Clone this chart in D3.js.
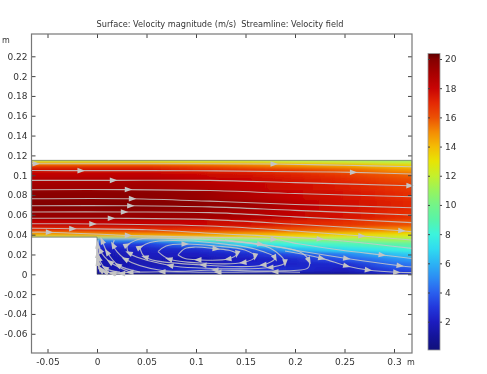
<!DOCTYPE html>
<html>
<head>
<meta charset="utf-8">
<script src="https://cdn.jsdelivr.net/npm/d3@7"></script>
<style>
    html, body { margin: 0; background: #fff; }
    text { font-family: "DejaVu Sans", sans-serif; fill: #333; }
    svg { filter: blur(0.3px); }
</style>
</head>
<body>
<div id="chart"></div>
<script>
// Tick labels
const xTicks = [-0.05, 0, 0.05, 0.1, 0.15, 0.2, 0.25, 0.3];
const yTicks = [-0.06, -0.04, -0.02, 0, 0.02, 0.04, 0.06, 0.08, 0.1, 0.12, 0.14, 0.16, 0.18, 0.2, 0.22];
const barTicks = [2, 4, 6, 8, 10, 12, 14, 16, 18, 20];

// Colour table of the legend
const colorValues = [0.06, 1, 2, 3, 4, 5, 6, 7, 8, 9, 10, 11, 12, 13, 14, 15, 16, 17, 18, 19, 20, 20.4];
const colorHexes = ['#10107a', '#14149a', '#1c1cc0', '#2238dc', '#2a60ee', '#2c8cf4', '#2cb4f4', '#30dcf0', '#3cf4dc', '#58f4a8', '#74f488', '#98f45c', '#c4f02c', '#e8e404', '#f4bc04', '#f48c04', '#ec5004', '#e42804', '#c80404', '#a80000', '#840000', '#5c0000'];

// Velocity magnitude: rows are heights, columns are stations
const fieldX = [-0.066, 0, 0.05, 0.1, 0.15, 0.2, 0.25, 0.3, 0.318];
const fieldY = [0.115, 0.113, 0.11, 0.105, 0.1, 0.095, 0.09, 0.08, 0.07, 0.06, 0.05, 0.045, 0.04, 0.0375, 0.035, 0.03, 0.025, 0.02, 0.015, 0.01, 0.005, 0];
const fieldValues = [
    [11.5, 11.5, 11.5, 11.5, 11.5, 11, 11, 10.5, 10.5],
    [14, 14, 14, 13.5, 13.5, 13, 12.5, 12, 12],
    [16.5, 16.5, 16.5, 16, 15.5, 15, 14.5, 13.7, 13.5],
    [17.8, 17.8, 17.8, 17.2, 17, 16.5, 15.8, 15, 14.8],
    [18.3, 18.3, 18.3, 18, 17.7, 17.2, 16.6, 15.9, 15.7],
    [18.8, 18.8, 18.8, 18.4, 18, 17.5, 17, 16.3, 16.1],
    [19.2, 19.2, 19.2, 18.8, 18.3, 17.8, 17.3, 16.7, 16.5],
    [19.8, 19.8, 19.8, 19.5, 18.8, 18.1, 17.6, 17, 16.8],
    [20, 20, 20, 19.8, 19.3, 18.5, 17.8, 17.2, 17],
    [19.5, 19.5, 19.5, 19.4, 18.9, 18.2, 17.6, 17, 16.8],
    [18.2, 18.2, 18.2, 18, 17.7, 17.2, 16.8, 16.2, 16],
    [17, 17, 17, 16.8, 16.5, 16, 15.5, 15, 14.8],
    [14.5, 15, 15, 15, 14.5, 14, 13.5, 13.3, 13],
    [12, 12, 13, 13.5, 13, 13, 12.5, 12, 12],
    [5, 5, 5, 8, 10, 10, 10.5, 11, 11],
    [3, 3, 3, 4.5, 7, 8, 8.5, 9, 9.2],
    [2, 2, 2.3, 2.5, 3.5, 6, 7, 7.7, 8],
    [1.5, 1.5, 2, 2, 2.5, 3.5, 4.7, 6.3, 6.6],
    [1.5, 1.5, 1.7, 1.5, 2, 2.5, 3.7, 5, 5.4],
    [1.5, 1.5, 1.7, 1.5, 2.3, 2.3, 2.5, 4.2, 4.5],
    [1.5, 1.5, 2, 2.5, 3, 2.5, 2, 3.4, 3.6],
    [0.8, 0.8, 0.8, 0.8, 0.8, 0.8, 1, 2, 2.4]
];

// Outline of the flow domain
const domainOutline = [[-0.066, 0.115], [0.318, 0.115], [0.318, 0], [0, 0], [0, 0.0375], [-0.066, 0.0375]];

// Streamlines as [x, y], a third item of 1 marks an arrow at that point
const channelLines = [
    [[-0.066, 0.1118], [-0.0616, 0.1116, 1], [0.05, 0.1116], [0.1788, 0.1113, 1], [0.25, 0.11], [0.318, 0.1085]],
    [[-0.066, 0.1048], [-0.0162, 0.1046, 1], [0.1, 0.1045], [0.2, 0.1035], [0.259, 0.1029, 1], [0.318, 0.1012]],
    [[-0.066, 0.0948], [0.0165, 0.0948, 1], [0.114, 0.0948], [0.2, 0.0925], [0.316, 0.0894, 1], [0.318, 0.0893]],
    [[-0.066, 0.0854], [0.0316, 0.0855, 1], [0.114, 0.0845], [0.2, 0.0815], [0.318, 0.0783]],
    [[-0.066, 0.0763], [0.0357, 0.0763, 1], [0.114, 0.0738], [0.2, 0.0705], [0.318, 0.0672]],
    [[-0.066, 0.0692], [0.034, 0.0692, 1], [0.114, 0.068], [0.2, 0.0645], [0.318, 0.0598]],
    [[-0.066, 0.0629], [0.0276, 0.0629, 1], [0.114, 0.0622], [0.2, 0.058], [0.318, 0.0521]],
    [[-0.066, 0.0565], [0.0144, 0.0565, 1], [0.114, 0.0552], [0.2, 0.0505], [0.3078, 0.044, 1], [0.318, 0.043]],
    [[-0.066, 0.051], [-0.0043, 0.0508, 1], [0.114, 0.0487], [0.2, 0.0437], [0.2674, 0.0386, 1], [0.318, 0.0346]],
    [[-0.066, 0.0465], [-0.0246, 0.046, 1], [0.05, 0.045], [0.114, 0.0415], [0.2254, 0.0356, 1], [0.318, 0.0262]],
    [[-0.066, 0.0425], [-0.0482, 0.0424, 1], [0.0316, 0.0392, 1], [0.1, 0.0375], [0.1788, 0.0353, 1], [0.205, 0.0305], [0.2454, 0.0245], [0.2879, 0.0195, 1], [0.318, 0.0159]],
    [[0.12, 0.0345], [0.1653, 0.0303, 1], [0.205, 0.0235], [0.2522, 0.016, 1], [0.3061, 0.0086, 1], [0.318, 0.0073]],
    [[0.1899, 0.0235], [0.227, 0.0161, 1], [0.2522, 0.0084, 1], [0.274, 0.0043, 1], [0.3027, 0.002, 1], [0.318, 0.0017]]
];
const eddyLines = [
    [[0.0818, 0.0195], [0.0889, 0.026], [0.099, 0.0275], [0.1202, 0.0258, 1], [0.1343, 0.024], [0.1414, 0.0205, 1], [0.1323, 0.0154, 1], [0.102, 0.0146, 1], [0.0889, 0.0159], [0.0818, 0.0195]],
    [[0.0616, 0.0228], [0.0697, 0.0286], [0.0889, 0.0306, 1], [0.1192, 0.0286], [0.1495, 0.0245], [0.1596, 0.0178, 1], [0.1475, 0.0119, 1], [0.104, 0.0114], [0.0727, 0.0154, 1], [0.0616, 0.0228]],
    [[0.0434, 0.0272, 1], [0.0535, 0.0321], [0.0768, 0.0341], [0.1192, 0.0316], [0.1596, 0.0255], [0.1798, 0.0164, 1], [0.1677, 0.0094, 1], [0.1071, 0.0094, 1], [0.0485, 0.0175, 1], [0.0434, 0.0272]],
    [[0.0303, 0.0296, 1], [0.0434, 0.0356], [0.0788, 0.0362], [0.1343, 0.0336], [0.1747, 0.0265], [0.1899, 0.0117, 1], [0.1747, 0.0069, 1], [0.104, 0.0064], [0.0737, 0.0089, 1], [0.0323, 0.0215, 1], [0.0303, 0.0296]],
    [[0.1293, 0.0346], [0.1697, 0.0296], [0.2051, 0.0225], [0.2141, 0.0137, 1], [0.2131, 0.0064], [0.1798, 0.0033], [0.1192, 0.0043, 1], [0.0657, 0.0038], [0.0283, 0.0154, 1], [0.0162, 0.0296, 1], [0.0175, 0.0345]],
    [[0.2051, 0.002], [0.1798, 0.0026, 1], [0.1222, 0.002, 1], [0.0657, 0.0026, 1], [0.0333, 0.002, 1], [0.015, 0.0015]]
];
const wallLines = [
    [[0.0434, 0.0023], [0.0212, 0.0094, 1], [0.0101, 0.0225, 1], [0.0051, 0.0339, 1], [0.004, 0.0365]],
    [[0.0333, 0.0023], [0.0131, 0.0124, 1], [0.003, 0.0245, 1], [0.001, 0.0346]],
    [[0.0232, 0.0023], [0.0081, 0.0064, 1], [0.002, 0.0164, 1], [0.0005, 0.0296, 1], [0.0004, 0.033]],
    [[0.0152, 0.0013, 1], [0.004, 0.0043, 1], [0.0005, 0.0124, 1], [0.0002, 0.02]],
    [[0.025, 0.0008, 1], [0.016, 0.0012, 1], [0.008, 0.0025, 1], [0.003, 0.006, 1], [0.001, 0.012, 1], [0.0006, 0.02, 1], [0.0005, 0.03]]
];

// Set the dimensions of the SVG container
const width = 487;
const height = 374;

// Frame of the plot and of the colour bar, in pixels
const frame = { left: 31.5, right: 412, top: 34, bottom: 353 };
const bar = { left: 428, right: 440, top: 53.5, bottom: 350 };

const svg = d3.select('#chart')
    .append('svg')
    .attr('width', width)
    .attr('height', height)
    .style('display', 'block');

// Define the scales
const xScale = d3.scaleLinear().domain([0, 0.3]).range([97, 394]);
const yScale = d3.scaleLinear().domain([0, 0.22]).range([274.3, 56.3]);
const barScale = d3.scaleLinear().domain([2, 20]).range([321.7, 59]);
const colorScale = d3.scaleLinear().domain(colorValues).range(colorHexes);

const defs = svg.append('defs');

defs.append('clipPath')
    .attr('id', 'domain-clip')
    .append('path')
    .attr('d', d3.line().x(d => xScale(d[0])).y(d => yScale(d[1])).curve(d3.curveLinearClosed)(domainOutline));

// Softens the steps between the rows of the table
defs.append('filter')
    .attr('id', 'smooth')
    .attr('filterUnits', 'userSpaceOnUse')
    .attr('x', 0).attr('y', 140).attr('width', 440).attr('height', 150)
    .append('feGaussianBlur')
    .attr('stdDeviation', '0 1.4');

// One horizontal gradient per row, with a stop at each station
const xStart = xScale(fieldX[0]);
const xEnd = xScale(fieldX[fieldX.length - 1]);

defs.selectAll('.row-gradient')
    .data(fieldValues)
    .enter()
    .append('linearGradient')
    .attr('class', 'row-gradient')
    .attr('id', (d, i) => `row-${i}`)
    .attr('gradientUnits', 'userSpaceOnUse')
    .attr('x1', xStart).attr('x2', xEnd).attr('y1', 0).attr('y2', 0)
    .selectAll('stop')
    .data(d => d)
    .enter()
    .append('stop')
    .attr('offset', (d, i) => (xScale(fieldX[i]) - xStart) / (xEnd - xStart))
    .attr('stop-color', d => colorScale(d));

// Row edges lie half way between the heights, outer rows run past the clip
const midY = (i) => i < 0 ? yScale(fieldY[0]) - 10
    : i >= fieldY.length - 1 ? yScale(fieldY[fieldY.length - 1]) + 10
    : (yScale(fieldY[i]) + yScale(fieldY[i + 1])) / 2;

// Create the surface
svg.append('g')
    .attr('clip-path', 'url(#domain-clip)')
    .append('g')
    .attr('filter', 'url(#smooth)')
    .selectAll('rect')
    .data(fieldValues)
    .enter()
    .append('rect')
    .attr('x', xStart)
    .attr('y', (d, i) => midY(i - 1))
    .attr('width', xEnd - xStart)
    .attr('height', (d, i) => midY(i) - midY(i - 1) + 0.5)
    .attr('fill', (d, i) => `url(#row-${i})`);

// Outline of the domain
svg.append('path')
    .attr('d', d3.line().x(d => xScale(d[0])).y(d => yScale(d[1])).curve(d3.curveLinearClosed)(domainOutline))
    .attr('fill', 'none')
    .attr('stroke', '#555')
    .attr('stroke-opacity', 0.6)
    .attr('stroke-width', 1);

// Create the streamlines
const allLines = channelLines.concat(eddyLines, wallLines);
const lineGen = d3.line().x(d => xScale(d[0])).y(d => yScale(d[1])).curve(d3.curveCatmullRom.alpha(0.5));

svg.append('g')
    .selectAll('path')
    .data(allLines)
    .enter()
    .append('path')
    .attr('d', lineGen)
    .attr('fill', 'none')
    .attr('stroke', '#c8c8c8')
    .attr('stroke-opacity', 0.85)
    .attr('stroke-width', 1.1);

// Arrows point from the marked point to the next one on its line
const arrows = allLines.flatMap(line => line.flatMap((p, i) => {
    if (!p[2]) return [];
    const next = line[i + 1] || p;
    const prev = line[i - 1] || p;
    const angle = Math.atan2(yScale(next[1]) - yScale(prev[1]), xScale(next[0]) - xScale(prev[0])) * 180 / Math.PI;
    return [{ x: xScale(p[0]), y: yScale(p[1]), angle }];
}));

svg.append('g')
    .selectAll('path')
    .data(arrows)
    .enter()
    .append('path')
    .attr('d', 'M-3.5,-2.8L4,0L-3.5,2.8Z')
    .attr('transform', d => `translate(${d.x},${d.y}) rotate(${d.angle})`)
    .attr('fill', '#c4c4c4');

// Create the axes, each one on both sides of the frame
const tickSize = 4;
const addAxis = (axis, x, y, labels) => {
    const g = svg.append('g')
        .attr('transform', `translate(${x}, ${y})`)
        .call(axis);
    g.select('.domain').remove();
    g.selectAll('line').attr('stroke', '#444');
    g.selectAll('text').style('font-size', '9px').attr('fill', '#333');
    if (!labels) g.selectAll('text').remove();
    return g;
};

addAxis(d3.axisBottom(xScale).tickValues(xTicks).tickSize(-tickSize).tickPadding(6).tickFormat(String), 0, frame.bottom, true);
addAxis(d3.axisTop(xScale).tickValues(xTicks).tickSize(-tickSize), 0, frame.top, false);
addAxis(d3.axisLeft(yScale).tickValues(yTicks).tickSize(-tickSize).tickPadding(4).tickFormat(String), frame.left, 0, true);
addAxis(d3.axisRight(yScale).tickValues(yTicks).tickSize(-tickSize), frame.right, 0, false);

// Frame
svg.append('rect')
    .attr('x', frame.left)
    .attr('y', frame.top)
    .attr('width', frame.right - frame.left)
    .attr('height', frame.bottom - frame.top)
    .attr('fill', 'none')
    .attr('stroke', '#777')
    .attr('stroke-width', 1.2);

// Add labels
svg.append('text')
    .attr('x', 220)
    .attr('y', 27)
    .style('text-anchor', 'middle')
    .style('font-size', '8.2px')
    .style('white-space', 'pre')
    .text('Surface: Velocity magnitude (m/s)  Streamline: Velocity field');

svg.append('text').attr('x', 2).attr('y', 43).style('font-size', '8px').text('m');
svg.append('text').attr('x', 407).attr('y', 365).style('font-size', '8px').text('m');

// Colour bar
const gradient = defs.append('linearGradient')
    .attr('id', 'bar-gradient')
    .attr('x1', 0).attr('y1', 1).attr('x2', 0).attr('y2', 0);

gradient.selectAll('stop')
    .data(colorValues)
    .enter()
    .append('stop')
    .attr('offset', d => (barScale(d) - bar.bottom) / (bar.top - bar.bottom))
    .attr('stop-color', d => colorScale(d));

svg.append('rect')
    .attr('x', bar.left)
    .attr('y', bar.top)
    .attr('width', bar.right - bar.left)
    .attr('height', bar.bottom - bar.top)
    .attr('fill', 'url(#bar-gradient)')
    .attr('stroke', '#999')
    .attr('stroke-width', 0.8);

const barAxis = addAxis(d3.axisRight(barScale).tickValues(barTicks).tickSize(2).tickPadding(3).tickFormat(String), bar.right, 0, true);
barAxis.selectAll('text').style('font-size', '9px');
addAxis(d3.axisLeft(barScale).tickValues(barTicks).tickSize(-2), bar.left, 0, false);
</script>
</body>
</html>
